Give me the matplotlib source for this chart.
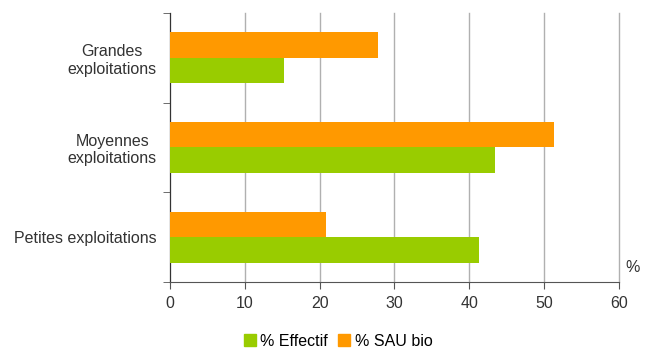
import matplotlib
matplotlib.use("Agg")
import matplotlib.pyplot as plt
import numpy as np
from matplotlib.patches import Patch

# --------------------------------------------------
# Data
# --------------------------------------------------
categories = ["Petites exploitations", "Moyennes\nexploitations", "Grandes\nexploitations"]
effectif = [41.3, 43.4, 15.2]
sau_bio = [20.9, 51.3, 27.8]
xticks = [0, 10, 20, 30, 40, 50, 60]

green = "#99CC00"
orange = "#FF9900"

plt.rcParams["font.family"] = ["Liberation Sans", "DejaVu Sans"]
plt.rcParams["font.size"] = 11.5

# --------------------------------------------------
# Plot
# --------------------------------------------------
fig = plt.figure(figsize=(6.5, 3.49), dpi=100)
ax = fig.add_axes([0.2615, 0.192, 0.6908, 0.771])

y = np.arange(len(categories))
h = 0.285
ax.barh(y + h / 2, sau_bio, height=h, color=orange, zorder=3)
ax.barh(y - h / 2, effectif, height=h, color=green, zorder=3)

ax.set_xlim(0, 60)
ax.set_ylim(-0.5, 2.5)
ax.set_xticks(xticks)
ax.set_xticklabels([str(t) for t in xticks], color="#333333")
ax.tick_params(axis="x", length=5, color="#555555", pad=5)

# category labels in the middle, tick marks between categories
ax.set_yticks(y)
ax.set_yticklabels(categories, color="#333333", ha="right", multialignment="center")
ax.tick_params(axis="y", which="major", length=0, pad=9.5)
ax.set_yticks(np.arange(-0.5, 3.0, 1.0), minor=True)
ax.tick_params(axis="y", which="minor", length=5, color="#555555")

ax.grid(axis="x", color="#b0b0b0", linewidth=1, zorder=0)
for gl in ax.get_xgridlines():
    gl.set_clip_on(False)
for side in ["top", "right"]:
    ax.spines[side].set_visible(False)
ax.spines["left"].set_color("#333333")
ax.spines["bottom"].set_color("#555555")

ax.text(1.03, 0.055, "%", transform=ax.transAxes, ha="center", va="center", color="#333333")

handles = [Patch(color=green, label="% Effectif"), Patch(color=orange, label="% SAU bio")]
fig.legend(handles=handles, loc="lower center", bbox_to_anchor=(0.52, -0.04), ncol=2,
           frameon=False, handlelength=0.75, handleheight=0.75, handletextpad=0.3,
           columnspacing=0.6)

fig.savefig("out.png", dpi=100)
